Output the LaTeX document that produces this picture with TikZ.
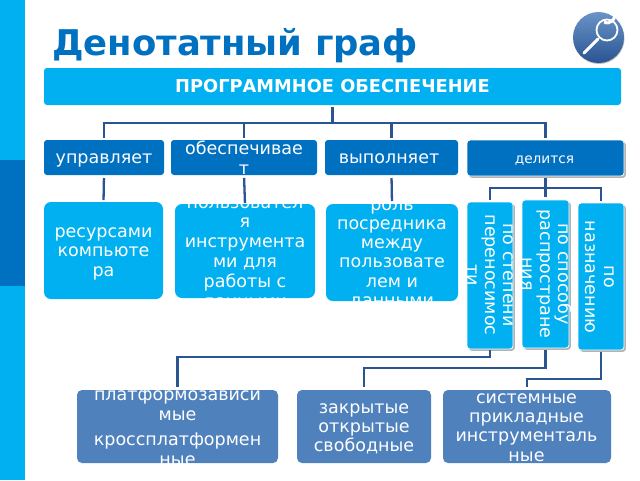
\documentclass[tikz,border=0pt]{standalone}
\usepackage{fontspec}
\setmainfont{DejaVu Sans}
\usetikzlibrary{shadows,calc}
\definecolor{cyanbox}{HTML}{00B0F0}
\definecolor{darkbox}{HTML}{0070C0}
\definecolor{steelbox}{HTML}{4F81BD}
\definecolor{linkcol}{HTML}{2A5492}
\newcommand{\ptbox}[7]{% name, x0,y0,x1,y1, style, corner
  \path[#6,rounded corners=#7] (#2,#3) rectangle (#4,#5);
  \node[minimum width=#4pt-#2pt,minimum height=#5pt-#3pt,inner sep=0pt,outer sep=0pt] (#1) at ({(#2+#4)/2},{(#3+#5)/2}) {};
}
\newcommand{\lines}[4]{% cx, top-baseline y, spacing, list
  \foreach \t [count=\i from 0] in {#4} {
    \node[txt,anchor=base] (l\i) at (#1,{#2+\i*#3}) {\t};
  }
}
\newcommand{\vlines}[4]{% right-most baseline x, cy, spacing, list
  \foreach \t [count=\i from 0] in {#4} {
    \node[txt,anchor=base,rotate=-90] (v\i) at ({#1-\i*#3},#2) {\t};
  }
}
\tikzset{x=1pt,y=-1pt,
  txt/.style={text=white,inner sep=0pt,font=\fontsize{17.5}{17.5}\selectfont},
  link/.style={draw=linkcol,line width=2.3pt,line cap=butt},
  cy/.style={fill=cyanbox},
  dk/.style={fill=darkbox},
  st/.style={fill=steelbox},
  shad/.style={fill=cyanbox,draw=white,line width=.8pt,drop shadow={shadow xshift=1.8pt,shadow yshift=-1.8pt,fill=black!50,opacity=.6}},
  shaddk/.style={fill=darkbox,draw=white,line width=.8pt,drop shadow={shadow xshift=1.8pt,shadow yshift=-1.8pt,fill=black!50,opacity=.6}},
}
\begin{document}
\begin{tikzpicture}
\useasboundingbox (0,0) rectangle (640,480);
\fill[white] (0,0) rectangle (640,480);
% side bar
\fill[cyanbox] (0,0) rectangle (25,160);
\fill[darkbox] (0,160) rectangle (25,286);
\fill[cyanbox] (0,286) rectangle (25,480);
% title
\node[anchor=base west,inner sep=0pt,text=darkbox,font=\fontsize{35.4}{36}\selectfont\bfseries] (title) at (52,55) {Денотатный граф};
% magnifier
\fill[black!25] (599,38.5) circle (25.5);
\shade[top color=steelbox!85!white,bottom color=linkcol] (598.5,37.5) circle (25.5);
\draw[white,line width=3pt,line cap=round] (584,53) -- (598,39);
\draw[white,line width=1.8pt] (607,30) circle (10.5);
\draw[white,line width=3pt] (604,22.5) arc (110:10:8);
% boxes
\ptbox{top}{44}{68}{621}{105}{cy}{3}
\node[txt,anchor=base,font=\fontsize{17.8}{18}\selectfont\bfseries] (toplabel) at (332.5,92) {ПРОГРАММНОЕ ОБЕСПЕЧЕНИЕ};
\ptbox{a}{44}{140}{164}{175}{dk}{3}
\ptbox{b}{171}{140}{317}{175}{dk}{3}
\ptbox{c}{325}{140}{458}{175}{dk}{3}
\ptbox{d}{467}{140}{624}{176}{shaddk}{3}
\node[txt,anchor=base] (alabel) at (104,163) {управляет};
\lines{244}{154}{20}{обеспечивае,т}
\node[txt,anchor=base] (clabel) at (389,163) {выполняет};
\node[txt,anchor=base,font=\fontsize{13.7}{14}\selectfont] (dlabel) at (544.5,163) {делится};
\ptbox{p}{44}{202}{163}{299}{cy}{7}
\lines{103.5}{237}{19.7}{ресурсами,компьюте,ра}
\ptbox{q}{175}{204}{315}{298}{cy}{7}
\begin{scope}
\clip (175,204) rectangle (315,298);
\lines{245}{208}{19.8}{пользовател,я,инструмента,ми для,работы с,данными}
\end{scope}
\ptbox{r}{326}{204}{458}{301}{cy}{7}
\begin{scope}
\clip (326,204) rectangle (458,301);
\lines{392}{210}{19.3}{роль,посредника,между,пользовате,лем и,данными}
\end{scope}
\ptbox{u}{467}{202}{513}{349}{shad}{3}
\vlines{503}{275}{18}{по степени,переносимос,ти}
\ptbox{v}{522}{200}{569}{348}{shad}{3}
\vlines{558}{274}{18}{по способу,распростране,ния}
\ptbox{w}{578}{203}{624}{350}{shad}{3}
\vlines{604}{277}{19}{по,назначению}
\ptbox{x}{77}{390}{278}{463}{st}{5}
\begin{scope}
\clip (77,390) rectangle (278,463);
\lines{177.5}{400.7}{19.3}{платформозависи,мые}
\lines{177.5}{445.7}{19.3}{кроссплатформен,ные}
\end{scope}
\ptbox{y}{297}{390}{431}{463}{st}{5}
\lines{364}{413}{19.4}{закрытые,открытые,свободные}
\ptbox{z}{443}{390}{611}{463}{st}{5}
\lines{526.5}{403}{19.4}{системные,прикладные,инструменталь,ные}
% connectors
\coordinate (hub) at (332.5,123);
\coordinate (dhub) at (545.5,188);
\coordinate (busu) at (0,357);
\coordinate (busv) at (0,368);
\coordinate (busw) at (0,379);
\draw[link,shorten <=2pt] (top.south) -- (hub);
\draw[link,shorten <=2pt] (a.north) |- (hub);
\draw[link,shorten <=2pt] (b.north) |- (hub);
\draw[link,shorten <=2pt] (c.north) |- (hub);
\draw[link,shorten <=2pt] (d.north) |- (hub);
\draw[link,shorten <=3pt,shorten >=2pt] (a.south) -- (p.north);
\draw[link,shorten <=3pt,shorten >=1pt] (b.south) -- (q.north);
\draw[link,shorten <=3pt,shorten >=3pt] (c.south) -- (r.north);
\draw[link,shorten <=2pt,shorten >=3pt] (d.south) -- (v.north);
\draw[link,shorten <=2pt] (u.north) |- (dhub);
\draw[link,shorten <=2pt] (w.north) |- (dhub);
\draw[link,shorten <=1pt,shorten >=3pt] (u.south) -- (u.south |- busu) -| (x.north);
\draw[link,shorten <=2pt,shorten >=3pt] (v.south) -- (v.south |- busv) -| (y.north);
\draw[link,shorten <=2pt,shorten >=3pt] (w.south) -- (w.south |- busw) -| (z.north);
\end{tikzpicture}
\end{document}
